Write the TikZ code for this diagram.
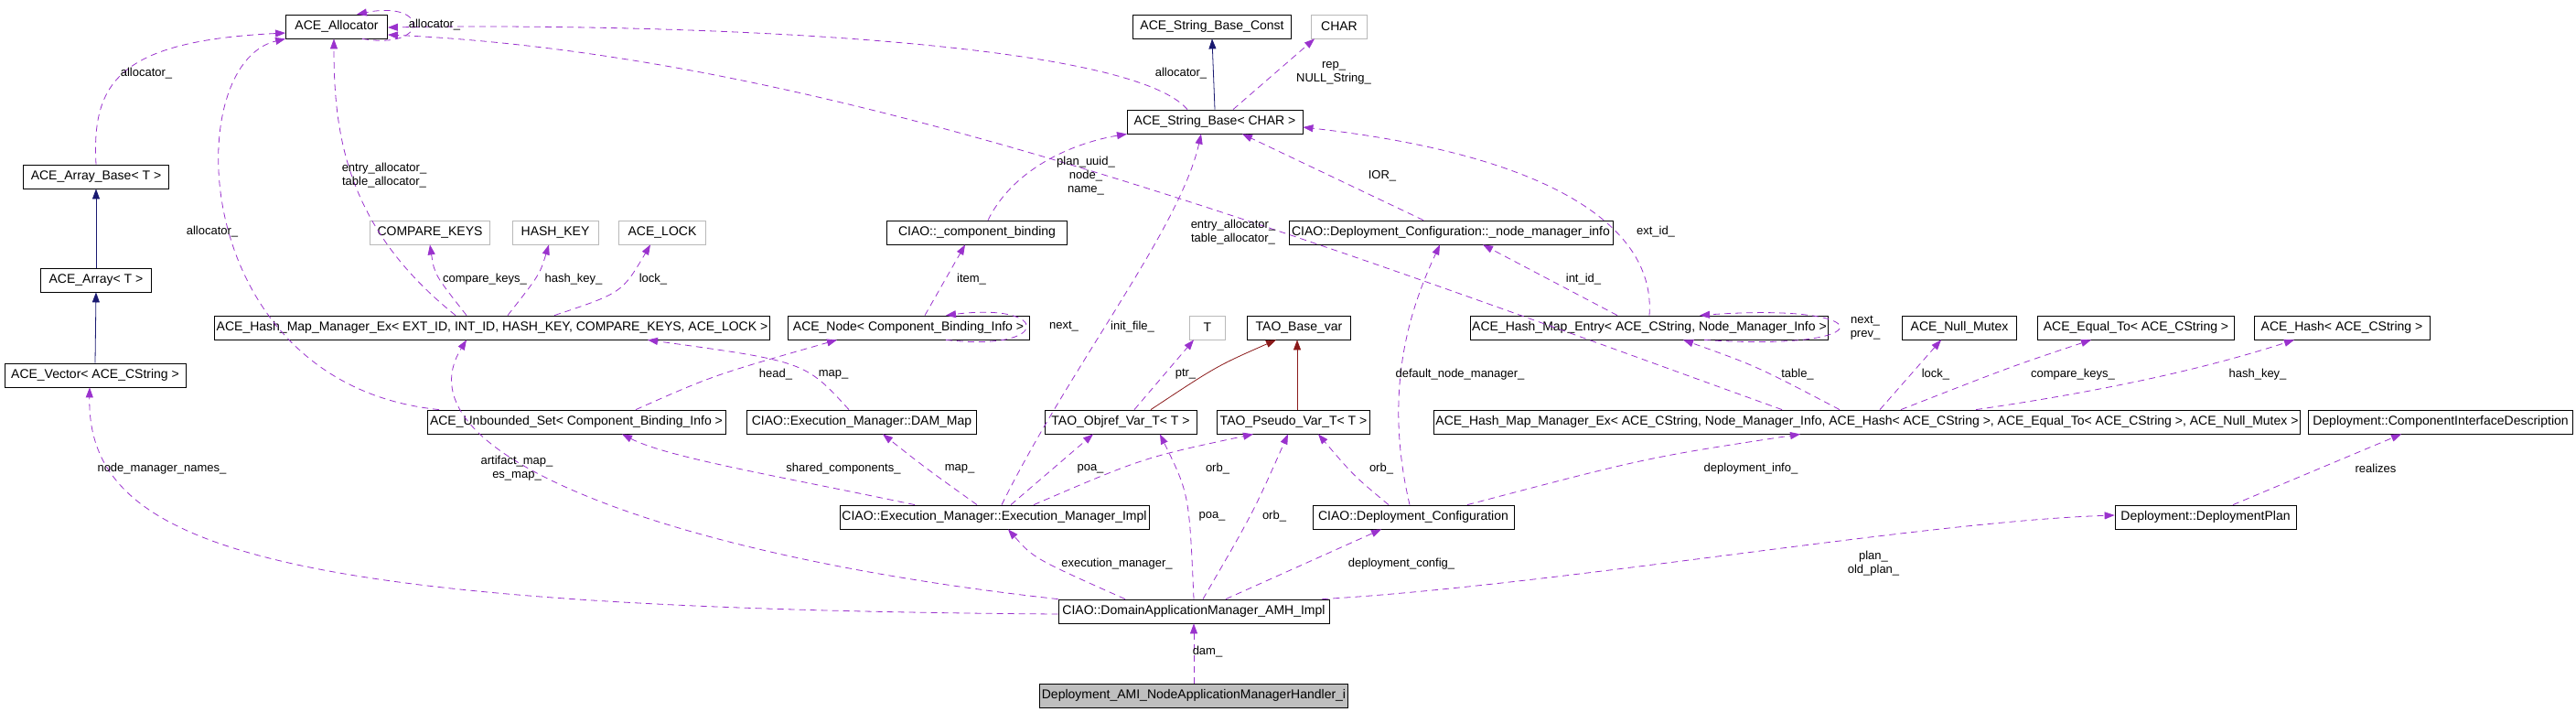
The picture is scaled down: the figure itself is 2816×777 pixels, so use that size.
\documentclass[tikz,border=0pt]{standalone}
\usepackage{fontspec}
\setmainfont{Liberation Sans}
\usetikzlibrary{arrows.meta}
\definecolor{usecol}{HTML}{9A32CD}
\definecolor{inhcol}{HTML}{191970}
\definecolor{tplcol}{HTML}{8B1A1A}
\tikzset{
  cls/.style={draw, thick, minimum height=26pt, inner sep=2pt, font=\fontsize{14}{16}\selectfont},
  ext/.style={cls, draw=gray!55},
  use/.style={usecol, dash pattern=on 7pt off 5pt, thick, -{Triangle[length=11pt,width=8pt]}},
  inh/.style={inhcol, thick, -{Triangle[length=11pt,width=8pt]}},
  tpl/.style={tplcol, thick, -{Triangle[length=11pt,width=8pt]}},
  lbl/.style={font=\fontsize{13}{15}\selectfont, align=center, inner sep=0pt}
}
\begin{document}
\begin{tikzpicture}[x=1pt,y=-1pt]
	\useasboundingbox (0,0) rectangle (2816,777);

	% classes
	\node[cls, minimum width=111pt] (alloc) at (368,29) {ACE\_Allocator};
	\node[cls, minimum width=173pt] (strconst) at (1325,29) {ACE\_String\_Base\_Const};
	\node[ext, minimum width=61pt] (charp) at (1464,29) {CHAR};
	\node[cls, minimum width=192pt] (strbase) at (1328,133) {ACE\_String\_Base< CHAR >};
	\node[cls, minimum width=159pt] (arrbase) at (105,193) {ACE\_Array\_Base< T >};
	\node[cls, minimum width=121pt] (arr) at (105,306) {ACE\_Array< T >};
	\node[ext, minimum width=131pt] (cmpkeys) at (470,254) {COMPARE\_KEYS};
	\node[ext, minimum width=94pt] (hashkey) at (607,254) {HASH\_KEY};
	\node[ext, minimum width=95pt] (acelock) at (724,254) {ACE\_LOCK};
	\node[cls, minimum width=197pt] (compbind) at (1068,254) {CIAO::\_component\_binding};
	\node[cls, minimum width=354pt] (nmi) at (1586,254) {CIAO::Deployment\_Configuration::\_node\_manager\_info};
	\node[cls, minimum width=597pt] (hmmgen) at (538,358) {ACE\_Hash\_Map\_Manager\_Ex< EXT\_ID, INT\_ID, HASH\_KEY, COMPARE\_KEYS, ACE\_LOCK >};
	\node[cls, minimum width=264pt] (acenode) at (993,358) {ACE\_Node< Component\_Binding\_Info >};
	\node[ext, minimum width=39pt] (tp) at (1320,358) {T};
	\node[cls, minimum width=113pt] (taobase) at (1420,358) {TAO\_Base\_var};
	\node[cls, minimum width=391pt] (hme) at (1803,358) {ACE\_Hash\_Map\_Entry< ACE\_CString, Node\_Manager\_Info >};
	\node[cls, minimum width=125pt] (nullmtx) at (2142,358) {ACE\_Null\_Mutex};
	\node[cls, minimum width=215pt] (eqto) at (2335,358) {ACE\_Equal\_To< ACE\_CString >};
	\node[cls, minimum width=192pt] (acehash) at (2560,358) {ACE\_Hash< ACE\_CString >};
	\node[cls, minimum width=198pt] (vec) at (104,410) {ACE\_Vector< ACE\_CString >};
	\node[cls, minimum width=326pt] (uset) at (630,461) {ACE\_Unbounded\_Set< Component\_Binding\_Info >};
	\node[cls, minimum width=251pt] (dammap) at (942,461) {CIAO::Execution\_Manager::DAM\_Map};
	\node[cls, minimum width=166pt] (objref) at (1225,461) {TAO\_Objref\_Var\_T< T >};
	\node[cls, minimum width=167pt] (pseudo) at (1414,461) {TAO\_Pseudo\_Var\_T< T >};
	\node[cls, minimum width=919pt] (hmmcs) at (2041,461) {ACE\_Hash\_Map\_Manager\_Ex< ACE\_CString, Node\_Manager\_Info, ACE\_Hash< ACE\_CString >, ACE\_Equal\_To< ACE\_CString >, ACE\_Null\_Mutex >};
	\node[cls, minimum width=289pt] (cid) at (2668,461) {Deployment::ComponentInterfaceDescription};
	\node[cls, minimum width=338pt] (emi) at (1087,565) {CIAO::Execution\_Manager::Execution\_Manager\_Impl};
	\node[cls, minimum width=220pt] (dconf) at (1545,565) {CIAO::Deployment\_Configuration};
	\node[cls, minimum width=198pt] (dplan) at (2411,565) {Deployment::DeploymentPlan};
	\node[cls, minimum width=296pt] (damah) at (1305,668) {CIAO::DomainApplicationManager\_AMH\_Impl};
	\node[cls, fill=gray!50, minimum width=337pt] (amih) at (1305,760) {Deployment\_AMI\_NodeApplicationManagerHandler\_i};

	% inheritance
	\draw[inh] (arr.north) -- (arrbase.south);
	\draw[inh] (vec.north) -- (arr.south);
	\draw[inh] (strbase.north) -- (strconst.south);
	\draw[tpl] ([xshift=33pt]objref.north) .. controls (1330,400) .. ([xshift=-25pt]taobase.south);
	\draw[tpl] ([xshift=4pt]pseudo.north) -- ([xshift=-2pt]taobase.south);

	% members
	\draw[use] (arrbase.north) .. controls (100,90) and (130,45) .. ([yshift=-7pt]alloc.west);
	\draw[use] ([xshift=-150pt]uset.north) .. controls (205,420) and (195,70) .. (alloc.south west);
	\draw[use] ([xshift=28pt]alloc.south) .. controls (470,55) and (470,0) .. ([xshift=22pt]alloc.north);
	\draw[use] ([xshift=-40pt]hmmgen.north) .. controls (380,250) and (365,150) .. ([xshift=-3pt]alloc.south);
	\draw[use] ([xshift=-28pt]hmmgen.north) .. controls (475,300) .. (cmpkeys.south);
	\draw[use] ([xshift=17pt]hmmgen.north) .. controls (590,300) .. ([xshift=-7pt]hashkey.south);
	\draw[use] ([xshift=68pt]hmmgen.north) .. controls (680,320) .. ([xshift=-13pt]acelock.south);
	\draw[use] ([xshift=-30pt]strbase.north) .. controls (1230,40) and (700,25) .. ([yshift=-1pt]alloc.east);
	\draw[use] ([xshift=-93pt]hmmcs.north) .. controls (1400,250) and (900,60) .. ([yshift=-9pt]alloc.east);
	\draw[use] ([xshift=20pt]strbase.north) -- ([xshift=-27pt]charp.south);
	\draw[use] ([xshift=12pt]compbind.north) .. controls (1110,180) and (1180,155) .. ([xshift=-96pt]strbase.south);
	\draw[use] ([xshift=18pt]acenode.north) -- ([xshift=-13pt]compbind.south);
	\draw[use] ([xshift=41pt]acenode.south) .. controls (1150,385) and (1150,330) .. ([xshift=41pt]acenode.north);
	\draw[use] ([xshift=65pt]uset.north) .. controls (780,410) .. ([xshift=-78pt]acenode.south);
	\draw[use] ([xshift=-14pt]dammap.north) .. controls (880,395) .. ([xshift=170pt]hmmgen.south);
	\draw[use] ([xshift=8pt]emi.north) .. controls (1170,400) and (1290,250) .. ([xshift=-15pt]strbase.south);
	\draw[use] ([xshift=15pt]objref.north) -- ([xshift=-15pt]tp.south);
	\draw[use] ([xshift=-30pt]nmi.north) -- ([xshift=30pt]strbase.south);
	\draw[use] ([xshift=-35pt]hme.north) -- ([xshift=35pt]nmi.south);
	\draw[use] (hme.north) .. controls (1810,250) and (1700,170) .. ([yshift=-6pt]strbase.east);
	\draw[use] ([xshift=60pt]hme.south) .. controls (2060,385) and (2060,330) .. ([xshift=55pt]hme.north);
	\draw[use] ([xshift=-30pt]hmmcs.north) .. controls (1920,400) .. ([xshift=37pt]hme.south);
	\draw[use] ([xshift=14pt]hmmcs.north) -- ([xshift=-20pt]nullmtx.south);
	\draw[use] ([xshift=37pt]hmmcs.north) .. controls (2200,400) .. ([xshift=-49pt]eqto.south);
	\draw[use] ([xshift=119pt]hmmcs.north) .. controls (2350,420) and (2450,390) .. ([xshift=-52pt]acehash.south);
	\draw[use] ([xshift=-87pt]emi.north) .. controls (850,520) and (730,500) .. ([xshift=50pt]uset.south);
	\draw[use] ([xshift=-19pt]emi.north) .. controls (1010,510) .. ([xshift=23pt]dammap.south);
	\draw[use] ([xshift=18pt]emi.north) -- ([xshift=-30pt]objref.south);
	\draw[use] ([xshift=43pt]emi.north) .. controls (1250,500) .. ([xshift=-44pt]pseudo.south);
	\draw[use] (damah.north west) .. controls (750,610) and (430,500) .. ([xshift=-28pt]hmmgen.south);
	\draw[use] ([yshift=-3pt]damah.west) .. controls (300,665) and (95,600) .. ([xshift=-6pt]vec.south);
	\draw[use] ([xshift=-75pt]damah.north) .. controls (1130,610) .. ([xshift=15pt]emi.south);
	\draw[use] (damah.north) .. controls (1300,540) .. ([xshift=43pt]objref.south);
	\draw[use] ([xshift=10pt]damah.north) .. controls (1370,560) .. ([xshift=-6pt]pseudo.south);
	\draw[use] ([xshift=35pt]damah.north) -- ([xshift=-35pt]dconf.south);
	\draw[use] ([xshift=-8pt]damah.north east) .. controls (1700,640) and (2100,570) .. ([yshift=2pt]dplan.west);
	\draw[use] ([xshift=-27pt]dconf.north) .. controls (1480,520) .. ([xshift=27pt]pseudo.south);
	\draw[use] ([xshift=-4pt]dconf.north) .. controls (1510,420) and (1545,330) .. ([xshift=-12pt]nmi.south);
	\draw[use] ([xshift=59pt]dconf.north) .. controls (1800,500) .. ([xshift=-73pt]hmmcs.south);
	\draw[use] ([xshift=30pt]dplan.north) -- ([xshift=-43pt]cid.south);
	\draw[use] (amih.north) -- (damah.south);

	% labels
	\node[lbl] (l1) at (160,80) {allocator\_};
	\node[lbl] (l2) at (232,253) {allocator\_};
	\node[lbl] (l3) at (475,27) {allocator\_};
	\node[lbl] (l4) at (420,192) {entry\_allocator\_\\table\_allocator\_};
	\node[lbl] (l5) at (530,305) {compare\_keys\_};
	\node[lbl] (l6) at (627,305) {hash\_key\_};
	\node[lbl] (l7) at (714,305) {lock\_};
	\node[lbl] (l8) at (1291,80) {allocator\_};
	\node[lbl] (l9) at (1458,80) {rep\_\\NULL\_String\_};
	\node[lbl] (l10) at (1187,192) {plan\_uuid\_\\node\_\\name\_};
	\node[lbl] (l11) at (1511,192) {IOR\_};
	\node[lbl] (l12) at (1348,254) {entry\_allocator\_\\table\_allocator\_};
	\node[lbl] (l13) at (1810,253) {ext\_id\_};
	\node[lbl] (l14) at (1062,305) {item\_};
	\node[lbl] (l15) at (1731,305) {int\_id\_};
	\node[lbl] (l16) at (1163,357) {next\_};
	\node[lbl] (l17) at (1238,357) {init\_file\_};
	\node[lbl] (l18) at (2039,358) {next\_\\prev\_};
	\node[lbl] (l19) at (848,409) {head\_};
	\node[lbl] (l20) at (911,409) {map\_};
	\node[lbl] (l21) at (1296,409) {ptr\_};
	\node[lbl] (l22) at (1596,409) {default\_node\_manager\_};
	\node[lbl] (l23) at (1965,409) {table\_};
	\node[lbl] (l24) at (2116,409) {lock\_};
	\node[lbl] (l25) at (2266,409) {compare\_keys\_};
	\node[lbl] (l26) at (2468,409) {hash\_key\_};
	\node[lbl] (l27) at (177,512) {node\_manager\_names\_};
	\node[lbl] (l28) at (565,512) {artifact\_map\_\\es\_map\_};
	\node[lbl] (l29) at (922,512) {shared\_components\_};
	\node[lbl] (l30) at (1049,512) {map\_};
	\node[lbl] (l31) at (1192,512) {poa\_};
	\node[lbl] (l32) at (1331,512) {orb\_};
	\node[lbl] (l33) at (1510,512) {orb\_};
	\node[lbl] (l34) at (1914,512) {deployment\_info\_};
	\node[lbl] (l35) at (2597,512) {realizes};
	\node[lbl] (l36) at (1325,564) {poa\_};
	\node[lbl] (l37) at (1393,564) {orb\_};
	\node[lbl] (l38) at (1221,616) {execution\_manager\_};
	\node[lbl] (l39) at (1532,616) {deployment\_config\_};
	\node[lbl] (l40) at (2048,616) {plan\_\\old\_plan\_};
	\node[lbl] (l41) at (1320,712) {dam\_};
\end{tikzpicture}
\end{document}
